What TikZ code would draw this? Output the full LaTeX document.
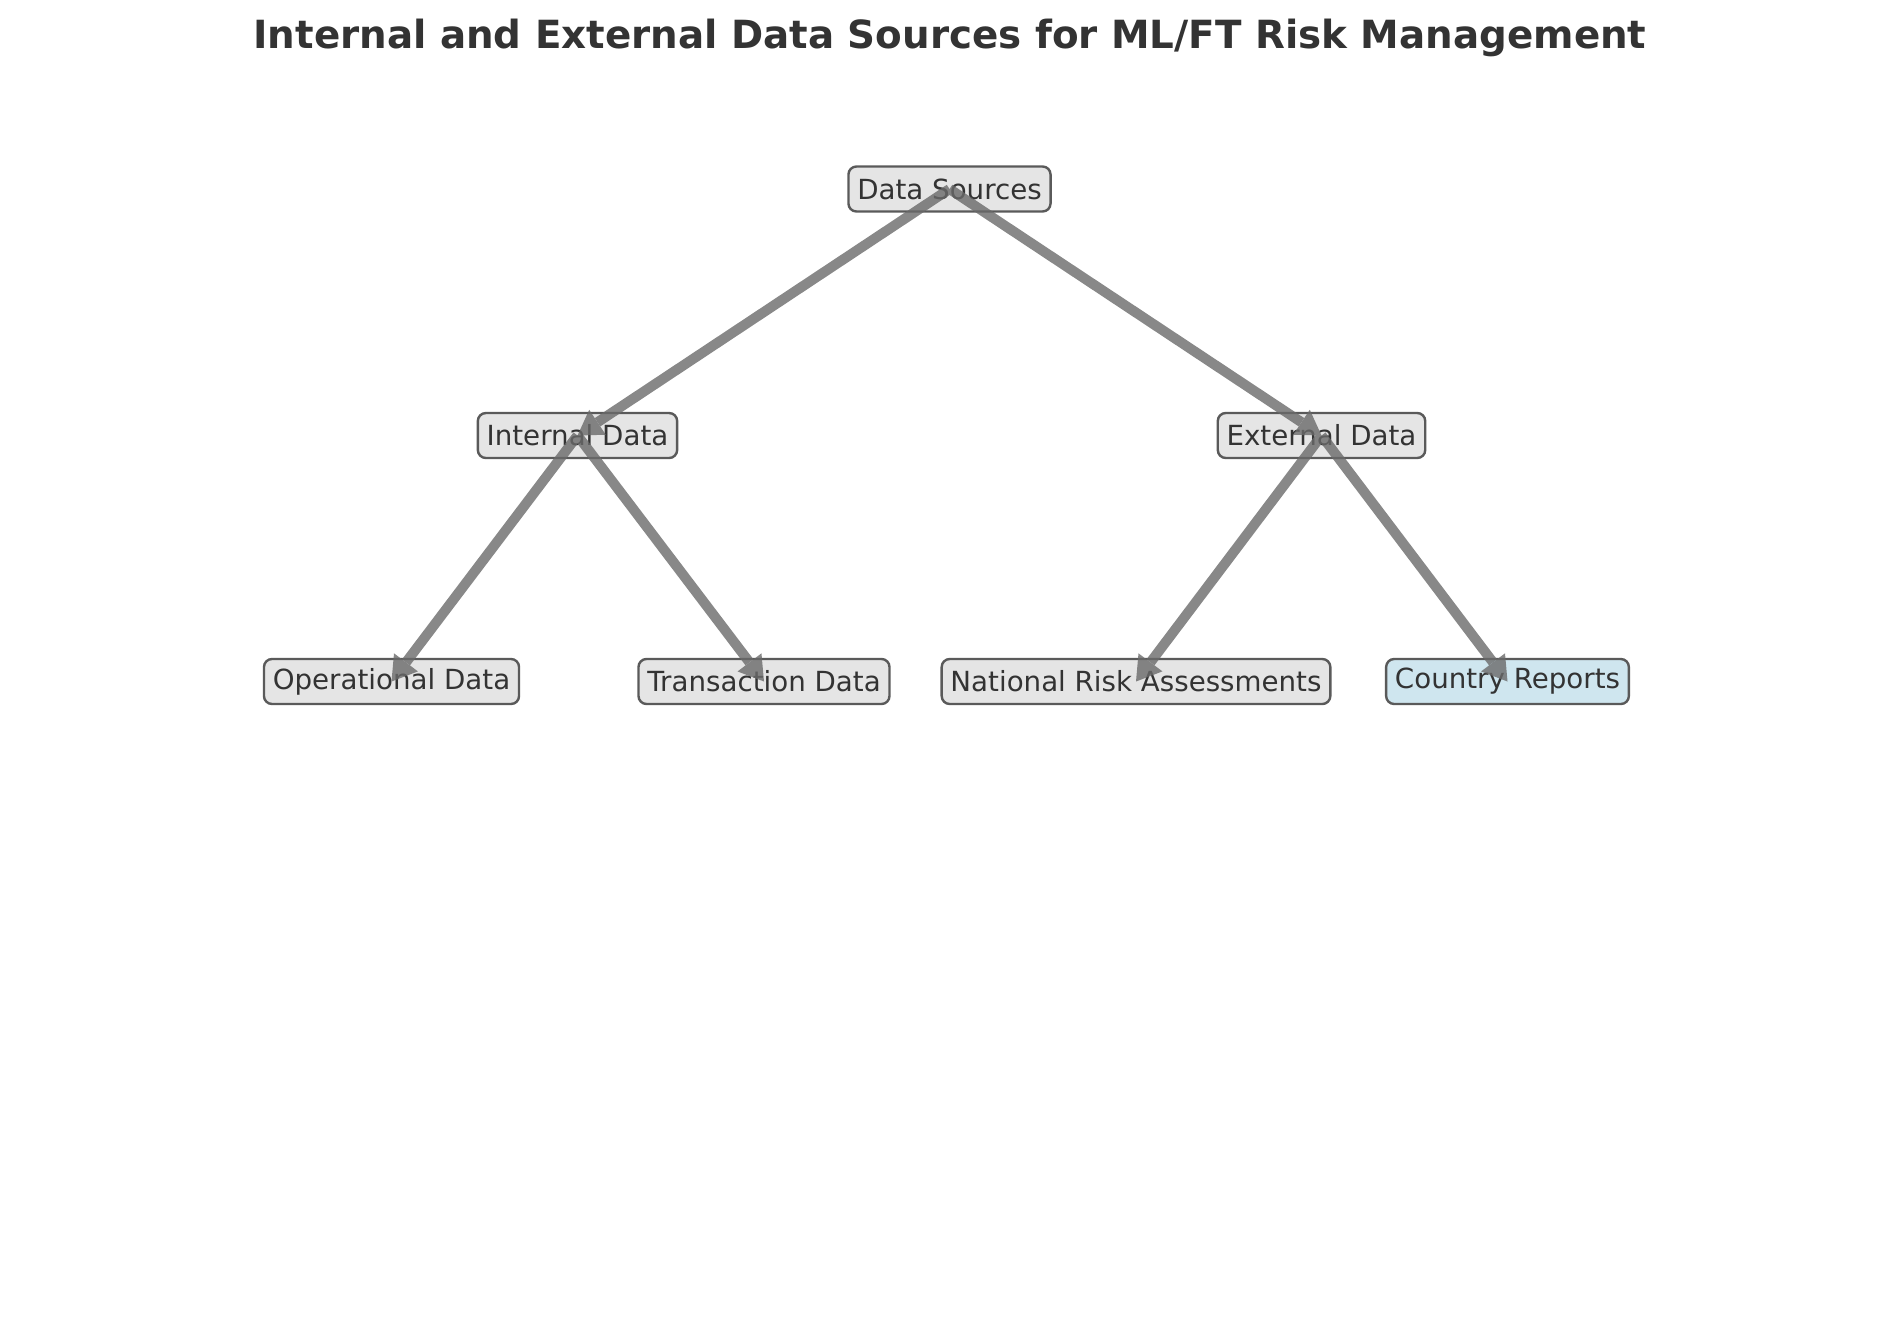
\documentclass[tikz,border=0pt]{standalone}
\usepackage{fontspec}
\setmainfont{DejaVu Sans}
\usetikzlibrary{arrows.meta}
\definecolor{txt}{HTML}{333333}
\definecolor{boxfill}{HTML}{E5E5E5}
\definecolor{boxdraw}{HTML}{5A5A5A}
\definecolor{bluefill}{HTML}{CFE6EF}
\definecolor{arrcol}{HTML}{6A6A6A}
\tikzset{
  databox/.style={draw=boxdraw, fill=boxfill, line width=1.2pt, rounded corners=4pt,
    inner xsep=4.4pt, inner ysep=0pt, minimum height=22.5pt, text=txt,
    font=\fontsize{13.85pt}{16pt}\selectfont},
  arr/.style={draw=arrcol, line width=5pt,
    -{Triangle[length=12pt,width=15pt,line width=0pt]}},
}
\begin{document}
\begin{tikzpicture}[x=0.5pt,y=-0.5pt]
\useasboundingbox (0,0) rectangle (1900,1318);
\node[text=txt, font=\fontsize{19.4pt}{23pt}\selectfont\bfseries] (title) at (950,37.5) {Internal and External Data Sources for ML/FT Risk Management};
\node[databox] (DS) at (949.5,189) {Data Sources};
\node[databox] (ID) at (577.5,435.5) {Internal Data};
\node[databox] (ED) at (1321.5,435.5) {External Data};
\node[databox] (OD) at (391.5,681.5) {Operational Data};
\node[databox] (TD) at (764,681.5) {Transaction Data};
\node[databox] (NR) at (1136,681.5) {National Risk Assessments};
\node[databox, fill=bluefill] (CR) at (1507.5,681.5) {Country Reports};
\begin{scope}[transparency group, opacity=0.8]
\draw[arr] (DS.center) -- (ID.center);
\draw[arr] (DS.center) -- (ED.center);
\draw[arr] (ID.center) -- (OD.center);
\draw[arr] (ID.center) -- (TD.center);
\draw[arr] (ED.center) -- (NR.center);
\draw[arr] (ED.center) -- (CR.center);
\end{scope}
\end{tikzpicture}
\end{document}
